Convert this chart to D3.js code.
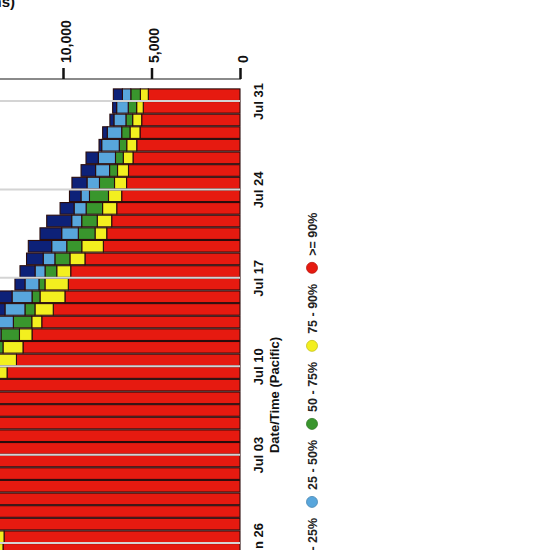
<!DOCTYPE html>
<html><head><meta charset="utf-8">
<script src="https://cdn.jsdelivr.net/npm/d3@7"></script>
<style>
html,body{margin:0;padding:0;background:#fff;overflow:hidden}
svg{display:block;font-family:"Liberation Sans",Arial,sans-serif}
</style></head><body>
<svg id="chart" width="555" height="550"></svg>
<script>
// ---- data ----
const dates = ["2015-06-25","2015-06-26","2015-06-27","2015-06-28","2015-06-29","2015-06-30",
  "2015-07-01","2015-07-02","2015-07-03","2015-07-04","2015-07-05","2015-07-06","2015-07-07",
  "2015-07-08","2015-07-09","2015-07-10","2015-07-11","2015-07-12","2015-07-13","2015-07-14",
  "2015-07-15","2015-07-16","2015-07-17","2015-07-18","2015-07-19","2015-07-20","2015-07-21",
  "2015-07-22","2015-07-23","2015-07-24","2015-07-25","2015-07-26","2015-07-27","2015-07-28",
  "2015-07-29","2015-07-30","2015-07-31"];
const valGE90   = [13390,13330,14100,14250,14200,14400,14350,14500,14300,14100,13900,13950,13800,
  13680,13160,12630,12260,11750,11200,10550,9890,9700,9565,8760,7720,7530,7250,
  6965,6685,6410,6300,6045,5835,5650,5555,5465,5180];
const val75to90 = [820,790,700,680,690,660,650,640,650,700,740,760,820,
  880,920,1100,1130,710,565,1035,1410,1320,790,850,1220,660,815,
  800,745,680,620,550,565,565,510,375,450];
const val50to75 = [640,620,600,590,580,570,560,560,570,590,620,640,680,
  720,740,800,900,1045,1040,565,450,340,660,850,850,945,880,
  930,1075,850,450,440,420,470,380,475,540];
const val25to50 = [600,580,560,560,550,540,540,530,540,560,580,600,640,
  680,700,720,800,950,1300,1130,1130,790,565,660,850,940,565,
  680,480,705,790,970,995,815,680,655,475];
const val0to25  = [950,930,900,880,870,860,850,840,850,880,900,920,950,
  980,1000,1080,1150,1300,1450,1400,1150,565,850,940,1320,1225,1410,
  790,650,850,820,695,150,260,225,225,510];
const seriesNames  = [">= 90%", "75 - 90%", "50 - 75%", "25 - 50%", "0 - 25%"];
const seriesColors = ["#e61a10", "#f3ef1f", "#39962d", "#58a6dc", "#0d2178"];
const valueTicks = [0, 5000, 10000];
const dateTicks = ["2015-06-26","2015-07-03","2015-07-10","2015-07-17","2015-07-24","2015-07-31"];
const valueAxisTitle = "Count (Items)";
const timeAxisTitle = "Date/Time (Pacific)";

// ---- chart ----
const svg = d3.select("#chart");
const parse = d3.timeParse("%Y-%m-%d");
const days = dates.map(parse);
const keys = ["ge90","p75","p50","p25","p0"];
const rows = days.map((d,i)=>({date:d, ge90:valGE90[i], p75:val75to90[i], p50:val50to75[i], p25:val25to50[i], p0:val0to25[i]}));
const stacked = d3.stack().keys(keys)(rows);

const x = d3.scaleLinear().domain([0, 10000]).range([240, 63]);
const y = d3.scaleTime().domain([parse("2015-06-25"), parse("2015-08-01")]).range([555.7, 88.4]);

// bars
const gBars = svg.append("g");
gBars.selectAll("g").data(stacked).join("g")
  .attr("fill", (d,i)=>seriesColors[i])
  .selectAll("rect").data(d=>d).join("rect")
  .attr("x", d=>x(d[1]))
  .attr("width", d=>x(d[0]) - x(d[1]))
  .attr("y", d=>y(d3.timeDay.offset(d.data.date,1)) + 0.5)
  .attr("height", d=>y(d.data.date) - y(d3.timeDay.offset(d.data.date,1)) - 1)
  .attr("stroke", "#2a0c0c")
  .attr("stroke-width", 1.1);

// grid lines
svg.append("g").selectAll("line").data(dateTicks.map(parse)).join("line")
  .attr("x1", 0).attr("x2", x(0))
  .attr("y1", d=>y(d)).attr("y2", d=>y(d))
  .attr("stroke", "#d4d4d4").attr("stroke-width", 2);

// value axis (top)
svg.append("line").attr("x1", 0).attr("x2", x(0)+1).attr("y1", 79).attr("y2", 79)
  .attr("stroke", "#8a8a8a").attr("stroke-width", 2);
const gx = svg.append("g").attr("transform", "translate(0,79)")
  .call(d3.axisTop(x).tickValues(valueTicks).tickSize(11).tickSizeOuter(0).tickFormat(d3.format(",")));
gx.select(".domain").remove();
gx.selectAll(".tick line").attr("stroke", "#111").attr("stroke-width", 2.5);
gx.selectAll(".tick text")
  .attr("transform", "rotate(-90)").attr("x", 16).attr("y", 7).attr("dy", null)
  .attr("text-anchor", "start").attr("fill", "#111")
  .style("font", "bold 14px 'Liberation Sans', Arial, sans-serif");

// time axis (right)
const gy = svg.append("g").attr("transform", `translate(${x(0)},0)`)
  .call(d3.axisRight(y).tickValues(dateTicks.map(parse)).tickSize(0).tickFormat(d3.timeFormat("%b %d")));
gy.select(".domain").remove();
gy.selectAll(".tick text")
  .attr("transform", "rotate(-90)").attr("x", 0).attr("y", 23).attr("dy", null)
  .attr("text-anchor", "middle").attr("fill", "#111")
  .style("font", "bold 13px 'Liberation Sans', Arial, sans-serif");

// titles
svg.append("text").attr("transform", "translate(279,395) rotate(-90)")
  .attr("text-anchor", "middle").attr("fill", "#111")
  .style("font", "bold 13px 'Liberation Sans', Arial, sans-serif")
  .text(timeAxisTitle);
svg.append("text").attr("x", 15).attr("y", 7).attr("text-anchor", "end").attr("fill", "#111")
  .style("font", "bold 15px 'Liberation Sans', Arial, sans-serif")
  .text(valueAxisTitle);

// legend
const legendItems = seriesNames.map((n,i)=>({name:n, color:seriesColors[i]})).reverse();
const gLeg = svg.append("g");
let cy = 573;
legendItems.forEach(item=>{
  gLeg.append("circle").attr("cx", 312).attr("cy", cy).attr("r", 5.5)
    .attr("fill", item.color).attr("stroke", d3.color(item.color).darker(0.6)).attr("stroke-width", 0.8);
  const t = gLeg.append("text").attr("transform", `translate(317,${cy-12}) rotate(-90)`)
    .attr("text-anchor", "start").attr("fill", "#222")
    .style("font", "bold 12.5px 'Liberation Sans', Arial, sans-serif")
    .text(item.name);
  const len = t.node().getComputedTextLength();
  cy = cy - 12 - len - 16;
});
</script>
</body></html>
